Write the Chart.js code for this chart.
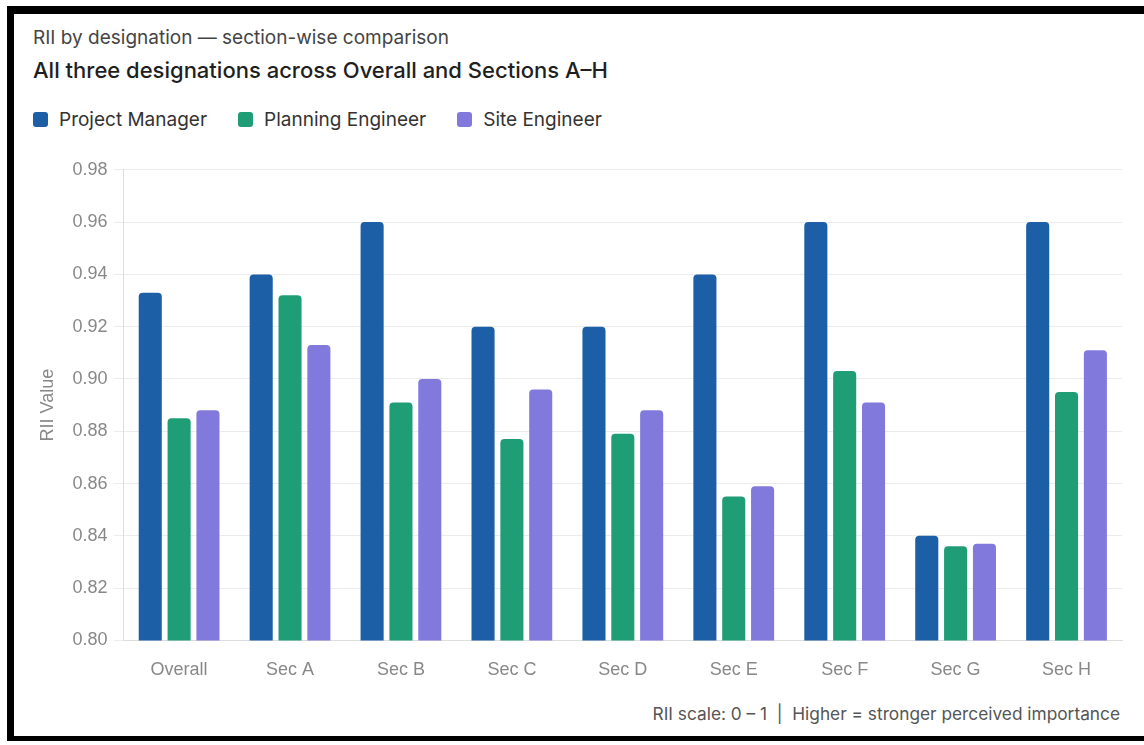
<!DOCTYPE html>
<html>
<head>
<meta charset="utf-8">
<script src="https://cdn.jsdelivr.net/npm/chart.js@4.4.1/dist/chart.umd.min.js"></script>
<style>
  body { margin: 0; background: #fff; width: 1144px; height: 745px; overflow: hidden; }
  #frame {
    position: absolute; left: 7px; top: 6px; width: 1137px; height: 735px;
    border-left: 7px solid #000; border-top: 8px solid #000; border-bottom: 5px solid #000;
    box-sizing: border-box; background: #fff;
  }
  .sub { position: absolute; left: 33px; top: 26px; font: 400 19px Inter, sans-serif; color: #444; }
  .title { position: absolute; left: 33px; top: 57px; font: 500 22px Inter, sans-serif; color: #1f1f1f; }
  #legend { position: absolute; left: 33px; top: 108px; display: flex; font: 400 19px Inter, sans-serif; color: #333; }
  #legend .item { display: flex; align-items: center; margin-right: 31px; }
  #legend .box { width: 15px; height: 15px; border-radius: 3px; margin-right: 11px; }
  .foot { position: absolute; right: 24px; top: 703px; font: 400 17.3px Inter, sans-serif; color: #555; }
  #wrap { position: absolute; left: 14px; top: 153px; width: 1130px; height: 539px; }
</style>
</head>
<body>
<div id="frame"></div>
<div class="sub">RII by designation — section-wise comparison</div>
<div class="title">All three designations across Overall and Sections A–H</div>
<div id="legend"></div>
<div id="wrap"><canvas id="chart"></canvas></div>
<div class="foot">RII scale: 0 – 1&nbsp; |&nbsp; Higher = stronger perceived importance</div>
<script>
const categories = ['Overall', 'Sec A', 'Sec B', 'Sec C', 'Sec D', 'Sec E', 'Sec F', 'Sec G', 'Sec H'];
const projectManager = [0.933, 0.94, 0.96, 0.92, 0.92, 0.94, 0.96, 0.84, 0.96];
const planningEngineer = [0.885, 0.932, 0.891, 0.877, 0.879, 0.855, 0.903, 0.836, 0.895];
const siteEngineer = [0.888, 0.913, 0.90, 0.896, 0.888, 0.859, 0.891, 0.837, 0.911];

const tickFont = { family: "'Liberation Sans', Arial, sans-serif", size: 18 };

const chart = new Chart(document.getElementById('chart'), {
  type: 'bar',
  data: {
    labels: categories,
    datasets: [
      { label: 'Project Manager', data: projectManager, backgroundColor: '#1c5fa6' },
      { label: 'Planning Engineer', data: planningEngineer, backgroundColor: '#1f9e76' },
      { label: 'Site Engineer', data: siteEngineer, backgroundColor: '#8279dd' }
    ]
  },
  options: {
    responsive: true,
    maintainAspectRatio: false,
    animation: false,
    layout: { padding: { left: 15, right: 22, top: 0, bottom: 0 } },
    datasets: {
      bar: { categoryPercentage: 0.78, barPercentage: 0.8, borderRadius: { topLeft: 4, topRight: 4 }, borderSkipped: 'bottom' }
    },
    plugins: {
      legend: { display: false },
      tooltip: { enabled: false }
    },
    scales: {
      x: {
        grid: { display: false },
        border: { color: '#ddd' },
        ticks: { color: '#888', font: tickFont, padding: 11 }
      },
      y: {
        min: 0.80, max: 0.98,
        grid: { color: '#ececec', tickLength: 10 },
        border: { color: '#ddd' },
        ticks: { stepSize: 0.02, color: '#888', font: tickFont, padding: 6, callback: v => v.toFixed(2) },
        title: { display: true, text: 'RII Value', color: '#888', font: tickFont, padding: 8 }
      }
    }
  }
});

// legend built from the chart datasets
const legendEl = document.getElementById('legend');
chart.data.datasets.forEach(ds => {
  const item = document.createElement('div');
  item.className = 'item';
  item.innerHTML = '<span class="box" style="background:' + ds.backgroundColor + '"></span>' + ds.label;
  legendEl.appendChild(item);
});
</script>
</body>
</html>
